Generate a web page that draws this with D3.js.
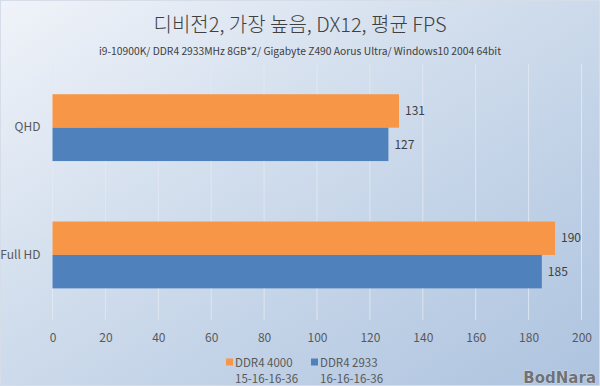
<!DOCTYPE html>
<html><head><meta charset="utf-8">
<script src="https://cdn.jsdelivr.net/npm/d3@7"></script>
<style>html,body{margin:0;padding:0;}svg{display:block;}</style>
</head><body>
<svg id="c" width="600" height="386"></svg>
<script>
const categories = ["QHD", "Full HD"];
const seriesNames = ["DDR4 4000", "DDR4 2933"];
const seriesSub = ["15-16-16-36", "16-16-16-36"];
const ddr4000 = [131, 190];
const ddr2933 = [127, 185];
const xTicks = [0, 20, 40, 60, 80, 100, 120, 140, 160, 180, 200];
const titleText = "디비전2, 가장 높음, DX12, 평균 FPS";
const subtitleText = "i9-10900K/ DDR4 2933MHz 8GB*2/ Gigabyte Z490 Aorus Ultra/ Windows10 2004 64bit";

const colors = ["#f79646", "#4f81bd"];
const svg = d3.select("#c");
const W = 600, H = 386;
const font = "'Noto Sans CJK KR', 'Noto Sans', sans-serif";

const defs = svg.append("defs");
const g = defs.append("linearGradient").attr("id","bg").attr("x1","0").attr("y1","0").attr("x2","1").attr("y2","1");
g.append("stop").attr("offset","0").attr("stop-color","#f0f3f9");
g.append("stop").attr("offset","0.45").attr("stop-color","#cfdcec");
g.append("stop").attr("offset","1").attr("stop-color","#adc3df");
svg.append("rect").attr("width",W).attr("height",H).attr("fill","url(#bg)");
svg.append("rect").attr("x",0.5).attr("y",0.5).attr("width",W-1).attr("height",H-1).attr("fill","none").attr("stroke","#d5dde8");

const x = d3.scaleLinear().domain([0, 200]).range([52.5, 581.5]);
const y0 = d3.scaleBand().domain(categories).range([64, 318.6]).paddingInner(0.475).paddingOuter(0.2375);
const y1 = d3.scaleBand().domain([0,1]).range([0, y0.bandwidth()]);

// gridlines
svg.append("g").selectAll("line").data(xTicks).join("line")
  .attr("x1", d=>x(d)).attr("x2", d=>x(d)).attr("y1", 64).attr("y2", 320)
  .attr("stroke", "#e4eaf3").attr("stroke-width", 1).attr("opacity", 0.85);

// x axis labels
const xa = svg.append("g").attr("transform","translate(0,320)")
  .call(d3.axisBottom(x).tickValues(xTicks).tickSize(0).tickPadding(13));
xa.select(".domain").remove();
xa.selectAll("text").attr("font-family", font).attr("font-size", 12).attr("fill", "#595959");

// y axis labels
const ya = svg.append("g").attr("transform","translate(52.5,0)")
  .call(d3.axisLeft(y0).tickSize(0).tickPadding(12));
ya.select(".domain").remove();
ya.selectAll("text").attr("font-family", font).attr("font-size", 12).attr("fill", "#595959");

const series = [ddr4000, ddr2933];
const bars = svg.append("g");
categories.forEach((c, ci) => {
  series.forEach((s, si) => {
    const yy = y0(c) + y1(si);
    bars.append("rect").attr("x", x(0)).attr("y", yy)
      .attr("width", x(s[ci]) - x(0)).attr("height", y1.bandwidth())
      .attr("fill", colors[si]);
    bars.append("text").attr("x", x(s[ci]) + 6).attr("y", yy + y1.bandwidth()/2)
      .attr("dy", "0.35em").attr("font-family", font).attr("font-size", 12)
      .attr("fill", "#404040").text(s[ci]);
  });
});

// title
svg.append("text").attr("x", 300).attr("y", 32).attr("text-anchor","middle")
  .attr("font-family", font).attr("font-weight", 300).attr("font-size", 20).attr("fill", "#404040").text(titleText);
svg.append("text").attr("x", 300).attr("y", 55).attr("text-anchor","middle")
  .attr("font-family", font).attr("font-size", 10.3).attr("fill", "#404040").text(subtitleText);

// legend
const legX = [226, 311];
seriesNames.forEach((n, i) => {
  svg.append("rect").attr("x", legX[i]).attr("y", 358.5).attr("width", 7).attr("height", 7).attr("fill", colors[i]);
  svg.append("text").attr("x", legX[i] + 9).attr("y", 363).attr("dy","0.35em")
    .attr("font-family", font).attr("font-size", 11.5).attr("fill", "#595959").text(n);
  svg.append("text").attr("x", legX[i] + 9).attr("y", 378.5).attr("dy","0.35em")
    .attr("font-family", font).attr("font-size", 11.5).attr("fill", "#595959").text(seriesSub[i]);
});

// watermark
svg.append("text").attr("x", 596).attr("y", 383).attr("text-anchor","end")
  .attr("font-family", "'DejaVu Sans', sans-serif").attr("font-weight","bold").attr("font-size", 15)
  .attr("fill", "#6f7278").attr("stroke","#e8edf3").attr("stroke-width",0.6).attr("paint-order","stroke").text("BodNara");
</script>
</body></html>
